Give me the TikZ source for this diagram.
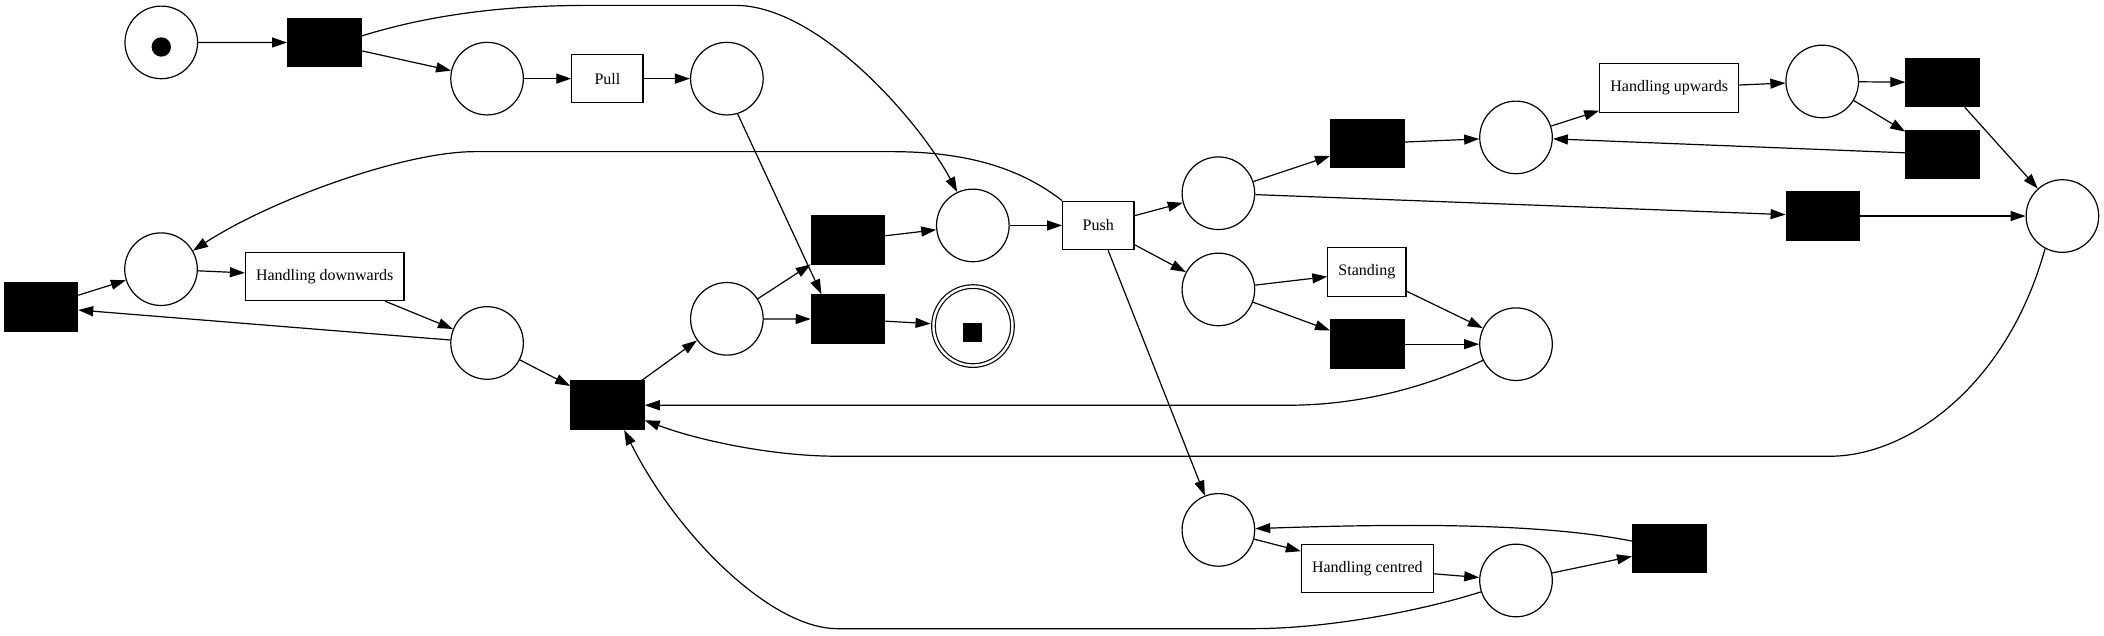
\documentclass[tikz,border=0pt]{standalone}
\usepackage{fontspec}
\setmainfont{Liberation Serif}
\usetikzlibrary{arrows.meta}

\begin{document}
\begin{tikzpicture}[x=0.6709pt,y=-0.6709pt,line width=0.6pt]
      \tikzset{>={Triangle[length=7.5pt,width=5pt]}}
      \tikzset{place/.style={draw,circle,minimum size=36.3pt,inner sep=0pt}}
      \tikzset{trans/.style={draw,fill=black,minimum width=36.7pt,minimum height=24.2pt,inner sep=0pt}}
      \tikzset{task/.style={draw,minimum width=35.6pt,minimum height=24.2pt,inner xsep=5.3pt,inner ysep=0pt,font=\fontsize{8}{9.6}\selectfont}}

      \useasboundingbox (0,0) rectangle (1568,473.3);

      \node[place] (S) at (120.2,31.6) {};
      \node[circle,fill,minimum size=9.7pt,inner sep=0pt] (Tk) at (120.2,35) {};
      \node[trans] (T1) at (241.7,31.7) {};
      \node[place] (P1) at (363,58.6) {};
      \node[task] (Pull) at (452.7,58.6) {Pull};
      \node[place] (P2) at (541.7,58.6) {};
      \node[place] (PL) at (120,200.6) {};
      \node[trans] (TL) at (30.5,228.8) {};
      \node[task] (HD) at (242,206) {Handling downwards};
      \node[place] (P3) at (363,255.6) {};
      \node[trans] (TM) at (452.7,302) {};
      \node[place] (P4) at (541.7,237.6) {};
      \node[trans] (TA) at (632,179) {};
      \node[trans] (TB) at (632,237.8) {};
      \node[place,double,double distance=1.2pt,minimum size=39.5pt,outer sep=1.5pt] (E) at (725.1,243) {};
      \node[fill,minimum size=9.5pt,inner sep=0pt] (Em) at (725.1,247.5) {};
      \node[place] (P5) at (725,168) {};
      \node[task] (Push) at (818.5,168) {Push};
      \node[place] (P6) at (908,144) {};
      \node[place] (P7) at (908,215.7) {};
      \node[trans] (TC) at (1019,107) {};
      \node[place] (P8) at (1129.8,102.4) {};
      \node[task] (HU) at (1244,65.6) {Handling upwards};
      \node[place] (P9) at (1358,60.7) {};
      \node[trans] (TD) at (1447.7,61.5) {};
      \node[trans] (TE) at (1447.7,115) {};
      \node[trans] (TF) at (1358.5,161) {};
      \node[place] (P10) at (1537,161) {};
      \node[task] (St) at (1018.7,202.7) {Standing};
      \node[trans] (TG) at (1019,256.5) {};
      \node[place] (P11) at (1129.8,256.5) {};
      \node[place] (P12) at (908,394.9) {};
      \node[task] (HC) at (1019,423.6) {Handling centred};
      \node[place] (P13) at (1129.8,432.6) {};
      \node[trans] (TH) at (1244,408.8) {};

      \draw[->] (S) -- (T1);
      \draw[->] (T1) -- (P1);
      \draw[->] (P1) -- (Pull);
      \draw[->] (Pull) -- (P2);
      \draw[->] (T1.10) .. controls (330,8) and (390,4) .. (440,4) -- (548,4) .. controls (610,4) and (685,90) .. (P5.115);
      \draw[->] (P2.-73) -- (TB.137);
      \draw[->] (Push.north west) .. controls (760,125) and (720,113) .. (664,113) -- (354,113) .. controls (300,113) and (200,150) .. (PL.30);
      \draw[->] (PL) -- (HD);
      \draw[->] (HD) -- (P3);
      \draw[->] (TL) -- (PL);
      \draw[->] (P3) -- (TL);
      \draw[->] (P3) -- (TM);
      \draw[->] (TM) -- (P4);
      \draw[->] (P4) -- (TA);
      \draw[->] (P4) -- (TB);
      \draw[->] (TA) -- (P5);
      \draw[->] (TB) -- (E);
      \draw[->] (P5) -- (Push);
      \draw[->] (Push) -- (P6);
      \draw[->] (Push) -- (P7);
      \draw[->] (Push) -- (P12);
      \draw[->] (P6) -- (TC);
      \draw[->] (P6) -- (TF);
      \draw[->] (TC) -- (P8);
      \draw[->] (P8) -- (HU);
      \draw[->] (HU) -- (P9);
      \draw[->] (P9) -- (TD);
      \draw[->] (P9) -- (TE);
      \draw[->] (TE) -- (P8);
      \draw[->] (TD) -- (P10);
      \draw[->] (TF) -- (P10);
      \draw[->] (P10.-118) .. controls (1495,290) and (1420,340) .. (1364,340) -- (624,340) .. controls (575,340) and (520,328) .. (TM.-22);
      \draw[->] (P7) -- (St);
      \draw[->] (P7) -- (TG);
      \draw[->] (St) -- (P11);
      \draw[->] (TG) -- (P11);
      \draw[->] (P11.206) .. controls (1060,290) and (1010,302) .. (960,302) -- (TM.east);
      \draw[->] (P12) -- (HC);
      \draw[->] (HC) -- (P13);
      \draw[->] (P13) -- (TH);
      \draw[->] (TH) .. controls (1150,390) and (1050,390) .. (P12);
      \draw[->] (P13.198) .. controls (1060,455) and (990,468.5) .. (934,468.5) -- (624,468.5) .. controls (575,468.5) and (505,400) .. (TM.-56);
\end{tikzpicture}
\end{document}
